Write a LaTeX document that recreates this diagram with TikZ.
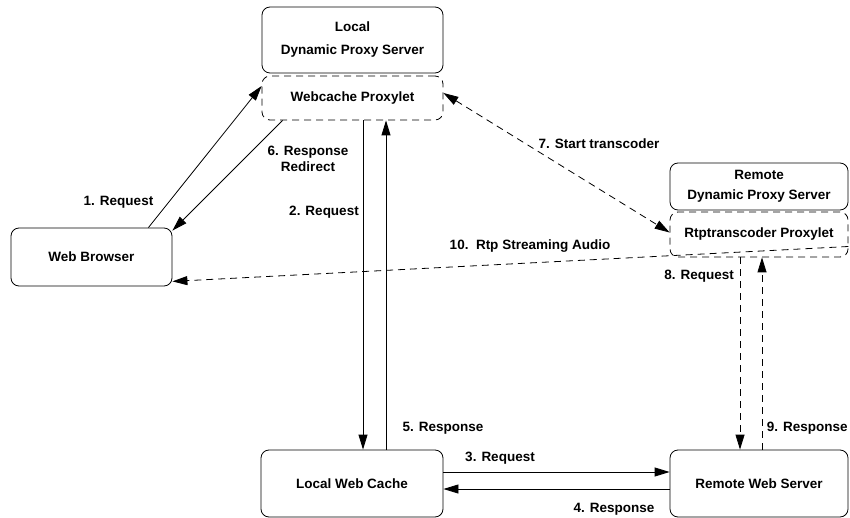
\documentclass[tikz,border=0pt]{standalone}
\usepackage{fontspec}
\setmainfont{Liberation Sans}
\usetikzlibrary{arrows.meta}

\begin{document}
\begin{tikzpicture}[x=1pt, y=-1pt, line join=round, line width=0.8pt,
  box/.style={draw, rounded corners=8pt, inner sep=0pt, align=center,
    font=\bfseries\fontsize{13.5}{23}\selectfont},
  proxylet/.style={box, dash pattern=on 7pt off 5pt},
  lbl/.style={inner sep=0pt, align=center, font=\bfseries\fontsize{13.5}{16}\selectfont},
  arr/.style={-{Triangle[length=15pt,width=9pt]}},
  dasharr/.style={arr, dash pattern=on 7pt off 5pt}]

% page frame (y runs downwards, one unit = one pixel of the scan)
\useasboundingbox (0,0) rectangle (850,518);

% Boxes
\node[box, minimum width=181pt, minimum height=66pt] (ldps) at (352.5,40) {Local\\Dynamic Proxy Server};
\node[proxylet, minimum width=181pt, minimum height=44pt] (wcp) at (352.5,98) {Webcache Proxylet};
\node[box, minimum width=178pt, minimum height=47pt] (rdps) at (759,186.5) {Remote\\[-3pt]Dynamic Proxy Server};
\node[proxylet, minimum width=178pt, minimum height=45pt] (rtp) at (759,234.5) {Rtptranscoder Proxylet};
\node[box, minimum width=161pt, minimum height=58pt] (browser) at (91.5,257) {Web Browser};
\node[box, minimum width=182pt, minimum height=67pt] (lwc) at (352,483.5) {Local Web Cache};
\node[box, minimum width=178pt, minimum height=67pt] (rws) at (759,483.5) {Remote Web Server};

% browser <-> webcache proxylet
\draw[arr] ([xshift=-24pt]browser.north east) -- ([yshift=12pt]wcp.west);
\draw[arr] ([xshift=21pt]wcp.south west) -- ([yshift=-3pt]browser.north east);

% proxylet <-> local cache
\draw[arr] ([xshift=10.5pt]wcp.south) -- ([xshift=11pt]lwc.north);
\draw[arr] ([xshift=34pt]lwc.north) -- ([xshift=33.5pt]wcp.south);

% local cache <-> remote server
\draw[arr] ([yshift=11.5pt]lwc.east) -- ([yshift=11.5pt]rws.west);
\draw[arr] ([yshift=-5.5pt]rws.west) -- ([yshift=-5.5pt]lwc.east);

% proxylet to proxylet
\draw[dasharr, {Triangle[length=15pt,width=9pt]}-{Triangle[length=15pt,width=9pt]}]
  ([yshift=5pt]wcp.east) -- ([yshift=2pt]rtp.west);

% rtp proxylet <-> remote server
\draw[dasharr] ([xshift=-19pt]rtp.south) -- ([xshift=-19pt]rws.north);
\draw[dasharr] ([xshift=3pt]rws.north) -- ([xshift=3pt]rtp.south);

% streaming back to the browser
\draw[dasharr] ([yshift=-12pt]rtp.east) -- ([yshift=5pt]browser.south east);

% Labels
\node[lbl] (l1) at (118.5,202) {1. Request};
\node[lbl] (l6) at (308,159) {6. Response\\Redirect};
\node[lbl] (l2) at (324,212) {2. Request};
\node[lbl] (l5) at (443,428) {5. Response};
\node[lbl] (l3) at (500,458) {3. Request};
\node[lbl] (l4) at (614,509) {4. Response};
\node[lbl] (l7) at (599,144) {7. Start transcoder};
\node[lbl] (l8) at (699,276) {8. Request};
\node[lbl, anchor=east] (l9) at (848,428) {9. Response};
\node[lbl] (l10) at (530,246) {10.\ \ Rtp Streaming Audio};

\end{tikzpicture}
\end{document}
